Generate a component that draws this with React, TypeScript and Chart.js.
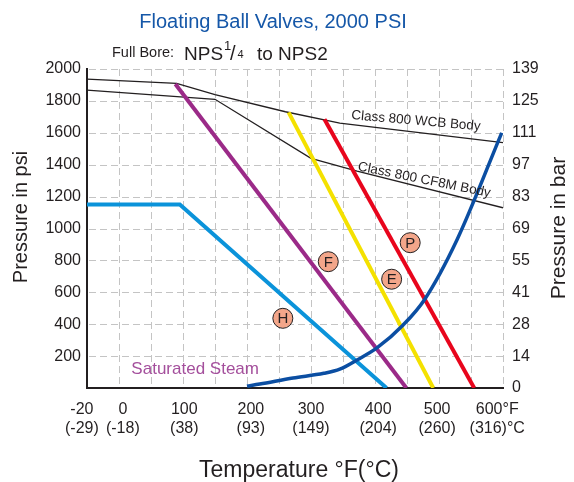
import React, { useEffect, useRef } from 'react';
import { Chart, registerables } from 'chart.js';

Chart.register(...registerables);

const FONT = '"Liberation Sans", Arial, Helvetica, sans-serif';
const INK = '#231f20';
const GRID = '#c4c4c4';

// X axis (temperature, °F): scale range and grid step
const X_MIN = -50;
const X_MAX = 600;
const X_GRID_STEP = 50;
// where each pair of tick labels sits on the temperature scale, and its text
const TEMP_LABEL_AT = [-58, 6, 102, 206, 300, 405, 497, 591];
const TEMP_F_LABELS = ['-20', '0', '100', '200', '300', '400', '500', '600°F'];
const TEMP_C_LABELS = ['(-29)', '(-18)', '(38)', '(93)', '(149)', '(204)', '(260)', '(316)°C'];
// Right axis (bar) labels for 0..2000 psi every 200
const BAR_LABELS = ['0', '14', '28', '41', '55', '69', '83', '97', '111', '125', '139'];

// Body ratings
const WCB_TEMP = [-50, 90, 150, 260, 345, 600];
const WCB_PSI = [1937, 1910, 1840, 1732, 1660, 1538];
const CF8M_TEMP = [-50, 150, 300, 372, 600];
const CF8M_PSI = [1868, 1810, 1440, 1360, 1130];

// Seat ratings
const H_TEMP = [-50, 95, 418];
const H_PSI = [1150, 1150, 0];
const F_TEMP = [88, 449];
const F_PSI = [1906, 0];
const E_TEMP = [265, 491];
const E_PSI = [1728, 0];
const P_TEMP = [321, 555];
const P_PSI = [1685, 0];

// Saturated steam curve
const STEAM_TEMP = [200, 220, 272, 320, 345, 372, 403, 444, 477, 528, 598];
const STEAM_PSI = [12, 25, 63, 92, 118, 176, 251, 395, 552, 928, 1600];

// Circled seat letters
const MARK_LETTERS = ['P', 'F', 'E', 'H'];
const MARK_TEMP = [455, 327, 426, 256];
const MARK_PSI = [911, 792, 682, 437];

const pts = (xs: number[], ys: number[]) => xs.map((x, i) => ({ x, y: ys[i] }));

const MARK_INDEX = 0;

function dashed(ctx: CanvasRenderingContext2D, x1: number, y1: number, x2: number, y2: number, on: number, off: number) {
  const len = Math.hypot(x2 - x1, y2 - y1);
  const ux = (x2 - x1) / len;
  const uy = (y2 - y1) / len;
  for (let d = 0; d < len; d += on + off) {
    const e = Math.min(d + on, len);
    ctx.moveTo(x1 + ux * d, y1 + uy * d);
    ctx.lineTo(x1 + ux * e, y1 + uy * e);
  }
}

const gridPlugin = {
  id: 'dashGrid',
  beforeDatasetsDraw(chart: any) {
    const ctx = chart.ctx as CanvasRenderingContext2D;
    const a = chart.chartArea;
    const xs = chart.scales.x;
    const ys = chart.scales.y;
    ctx.save();
    ctx.strokeStyle = GRID;
    ctx.lineWidth = 1;
    ctx.beginPath();
    for (let t = X_MIN + X_GRID_STEP; t <= X_MAX; t += X_GRID_STEP) {
      const px = Math.round(xs.getPixelForValue(t)) + 0.5;
      dashed(ctx, px, a.top, px, a.bottom, 7, 4);
    }
    for (const tk of ys.ticks) {
      if (tk.value === 0) continue;
      const py = Math.round(ys.getPixelForValue(tk.value)) + 0.5;
      dashed(ctx, a.left + 2, py, a.right, py, 7, 4);
    }
    ctx.stroke();
    ctx.restore();
  },
  afterDatasetsDraw(chart: any) {
    const ctx = chart.ctx as CanvasRenderingContext2D;
    const xs = chart.scales.x;
    const ys = chart.scales.y;
    ctx.save();
    const meta = chart.getDatasetMeta(MARK_INDEX);
    ctx.font = `15px ${FONT}`;
    ctx.fillStyle = INK;
    ctx.textAlign = 'center';
    ctx.textBaseline = 'middle';
    meta.data.forEach((el: any, i: number) => {
      ctx.fillText(MARK_LETTERS[i], el.x, el.y + 1);
    });

    const rot = (text: string, tx: number, py: number, deg: number, size: number, color: string) => {
      ctx.save();
      ctx.translate(xs.getPixelForValue(tx), ys.getPixelForValue(py));
      ctx.rotate((deg * Math.PI) / 180);
      ctx.font = `${size}px ${FONT}`;
      ctx.fillStyle = color;
      ctx.textAlign = 'center';
      ctx.textBaseline = 'middle';
      ctx.fillText(text, 0, 0);
      ctx.restore();
    };
    rot('Class 800 WCB Body', 464, 1674, 5, 13.5, INK);
    rot('Class 800 CF8M Body', 477, 1304, 11.5, 13.5, INK);
    rot('Saturated Steam', 119, 119, 0, 17, '#a44f9c');
    ctx.restore();
  },
  afterDraw(chart: any) {
    const ctx = chart.ctx as CanvasRenderingContext2D;
    ctx.save();
    ctx.textBaseline = 'alphabetic';
    ctx.font = `20px ${FONT}`;
    ctx.fillStyle = '#1557a8';
    ctx.textAlign = 'center';
    ctx.fillText('Floating Ball Valves, 2000 PSI', 273, 28);
    ctx.fillStyle = INK;
    ctx.textAlign = 'left';
    ctx.font = `14.5px ${FONT}`;
    ctx.fillText('Full Bore:', 112, 56.5);
    ctx.font = `19px ${FONT}`;
    ctx.fillText('NPS', 184, 60);
    ctx.font = `13px ${FONT}`;
    ctx.fillText('1', 224, 49.5);
    ctx.font = `20px ${FONT}`;
    ctx.fillText('/', 230, 60);
    ctx.font = `11px ${FONT}`;
    ctx.fillText('4', 237.5, 57.5);
    ctx.font = `19px ${FONT}`;
    ctx.fillText('to NPS2', 257, 60);
    ctx.textAlign = 'center';
    ctx.font = `23px ${FONT}`;
    ctx.fillText('Temperature °F(°C)', 299, 477);
    ctx.save();
    ctx.translate(27, 217);
    ctx.rotate(-Math.PI / 2);
    ctx.font = `20px ${FONT}`;
    ctx.fillText('Pressure in psi', 0, 0);
    ctx.restore();
    ctx.save();
    ctx.translate(565, 228);
    ctx.rotate(-Math.PI / 2);
    ctx.font = `21px ${FONT}`;
    ctx.fillText('Pressure in bar', 0, 0);
    ctx.restore();
    ctx.restore();
  },
};

export default function App() {
  const ref = useRef<HTMLCanvasElement | null>(null);

  useEffect(() => {
    if (!ref.current) return;
    const chart = new Chart(ref.current, {
      type: 'line',
      data: {
        datasets: [
          {
            data: pts(MARK_TEMP, MARK_PSI),
            showLine: false,
            pointRadius: 10,
            pointHoverRadius: 10,
            pointBackgroundColor: '#f3a68a',
            pointBorderColor: INK,
            pointBorderWidth: 1,
            order: 0,
          },
          {
            data: pts(STEAM_TEMP, STEAM_PSI),
            borderColor: '#0b4ea2',
            borderWidth: 3.5,
            pointRadius: 0,
            cubicInterpolationMode: 'monotone',
            order: 1,
          },
          { data: pts(P_TEMP, P_PSI), borderColor: '#e8051c', borderWidth: 4, pointRadius: 0, order: 2 },
          { data: pts(E_TEMP, E_PSI), borderColor: '#f4e100', borderWidth: 4, pointRadius: 0, order: 3 },
          { data: pts(F_TEMP, F_PSI), borderColor: '#9b2a88', borderWidth: 4, pointRadius: 0, order: 4 },
          { data: pts(H_TEMP, H_PSI), borderColor: '#0b93da', borderWidth: 4, pointRadius: 0, order: 5 },
          { data: pts(WCB_TEMP, WCB_PSI), borderColor: INK, borderWidth: 1.3, pointRadius: 0, order: 6 },
          { data: pts(CF8M_TEMP, CF8M_PSI), borderColor: INK, borderWidth: 1.3, pointRadius: 0, order: 7 },
        ] as any,
      },
      options: {
        animation: false,
        responsive: false,
        maintainAspectRatio: false,
        layout: { padding: { top: 69, left: 0, right: 0, bottom: 0 } },
        plugins: {
          legend: { display: false },
          tooltip: { enabled: false },
          title: { display: false },
        },
        events: [],
        scales: {
          x: {
            type: 'linear',
            position: 'bottom',
            min: X_MIN,
            max: X_MAX,
            afterBuildTicks: (s: any) => {
              s.ticks = TEMP_LABEL_AT.map((v) => ({ value: v }));
            },
            ticks: {
              autoSkip: false,
              maxRotation: 0,
              minRotation: 0,
              padding: 12,
              color: INK,
              font: { size: 16, family: FONT },
              callback: (_v: any, i: number) => [TEMP_F_LABELS[i], TEMP_C_LABELS[i]],
            },
            grid: { display: false, drawTicks: false },
            border: { display: true, color: INK, width: 2 },
            afterFit: (s: any) => {
              s.height = 94;
            },
          },
          y: {
            type: 'linear',
            position: 'left',
            min: 0,
            max: 2000,
            ticks: {
              stepSize: 200,
              padding: 6,
              color: INK,
              font: { size: 16, family: FONT },
              callback: (v: any) => (Number(v) === 0 ? '' : String(v)),
            },
            grid: { display: false, drawTicks: false },
            border: { display: true, color: INK, width: 2 },
            afterFit: (s: any) => {
              s.width = 87;
            },
          },
          y2: {
            type: 'linear',
            position: 'right',
            min: 0,
            max: 2000,
            ticks: {
              stepSize: 200,
              padding: 9,
              color: INK,
              font: { size: 16, family: FONT },
              callback: (v: any) => BAR_LABELS[Math.round(Number(v) / 200)] ?? '',
            },
            grid: { display: false, drawTicks: false },
            border: { display: false },
            afterFit: (s: any) => {
              s.width = 71;
            },
          },
        },
      } as any,
      plugins: [gridPlugin],
    });
    return () => chart.destroy();
  }, []);

  return (
    <div style={{ position: 'absolute', left: 0, top: 0, width: 574, height: 482 }}>
      <canvas ref={ref} width={574} height={482} style={{ display: 'block', width: '574px', height: '482px' }} />
    </div>
  );
}
